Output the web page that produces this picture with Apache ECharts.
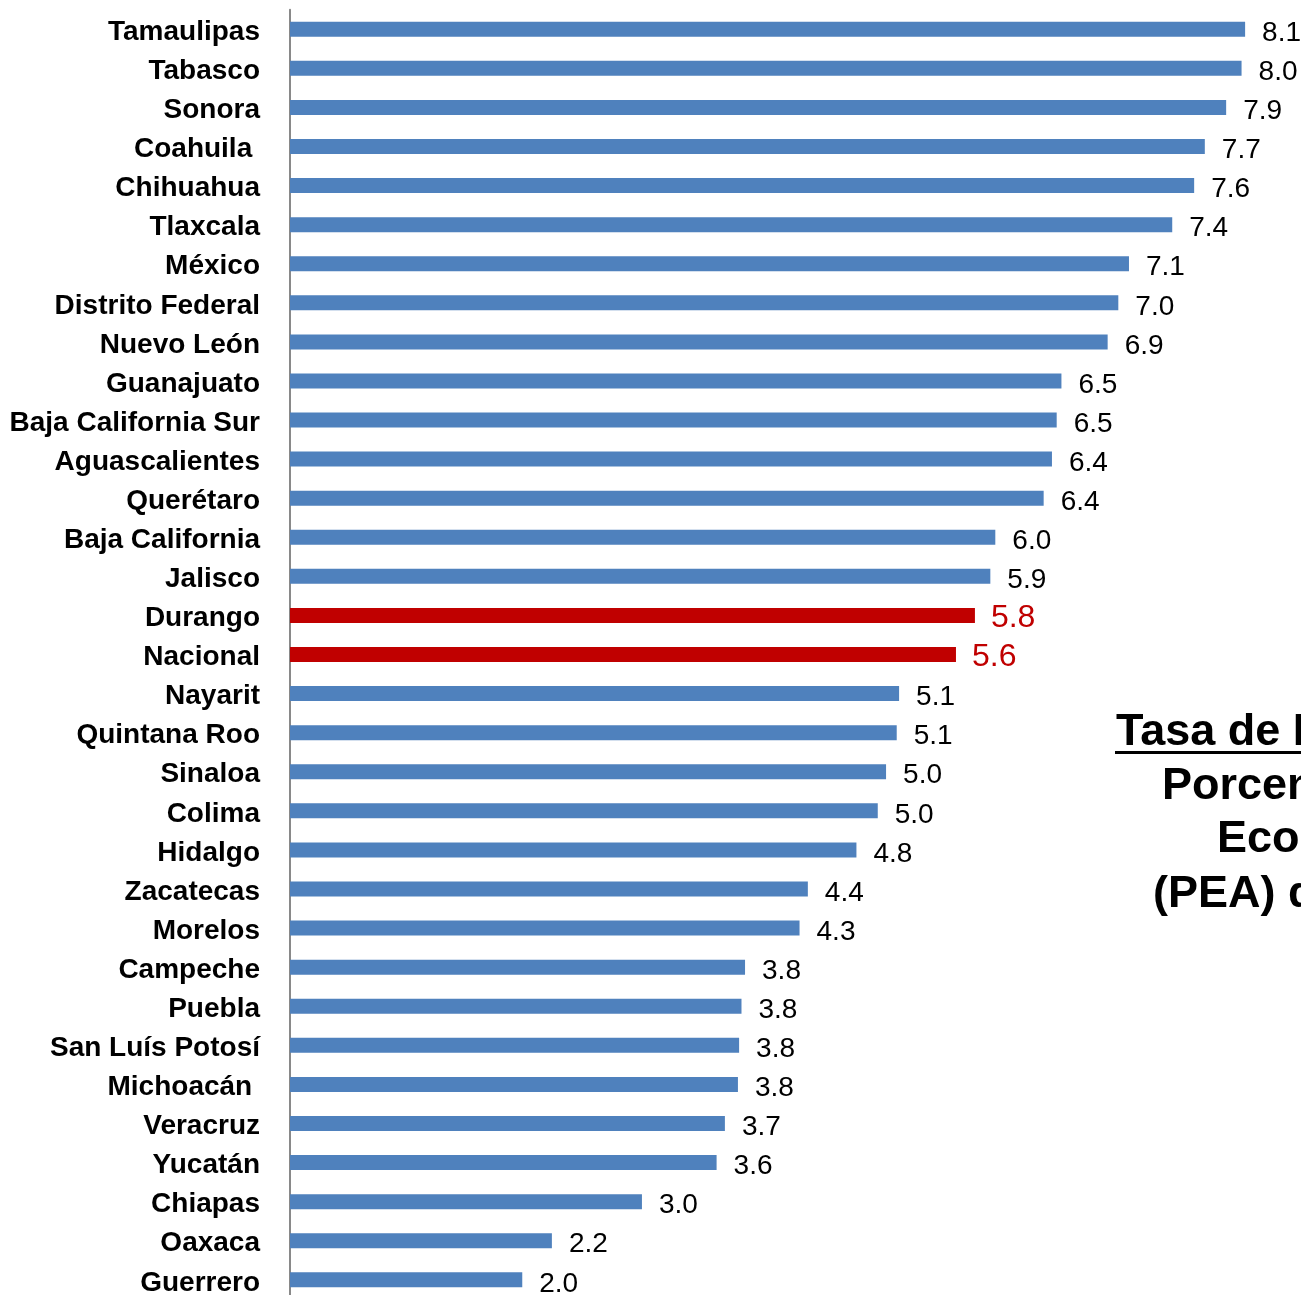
<!DOCTYPE html>
<html>
<head>
<meta charset="utf-8">
<script src="https://cdn.jsdelivr.net/npm/echarts@6/dist/echarts.min.js"></script>
<style>
html,body{margin:0;padding:0;background:#fff;}
#chart{width:1301px;height:1295px;}
</style>
</head>
<body>
<div id="chart"></div>
<script>
const categories = ["Tamaulipas","Tabasco","Sonora","Coahuila ","Chihuahua","Tlaxcala","México","Distrito Federal","Nuevo León","Guanajuato","Baja California Sur","Aguascalientes","Querétaro","Baja California","Jalisco","Durango","Nacional","Nayarit","Quintana Roo","Sinaloa","Colima","Hidalgo","Zacatecas","Morelos","Campeche","Puebla","San Luís Potosí","Michoacán ","Veracruz","Yucatán","Chiapas","Oaxaca","Guerrero"];
const values = [8.06,8.03,7.90,7.72,7.63,7.445,7.08,6.99,6.90,6.51,6.47,6.43,6.36,5.952,5.91,5.78,5.62,5.14,5.12,5.03,4.96,4.78,4.37,4.30,3.84,3.81,3.79,3.78,3.67,3.60,2.97,2.21,1.96];
const highlighted = ["Durango","Nacional"];
const titleLines = ["Tasa de Desocupación","Porcentaje de la Población","Económicamente Activa","(PEA) del Trimestre"];

const BLUE = '#4f81bd', RED = '#c00000';
const PX_PER_UNIT = 118.5;
const XMAX = 8.5;

const data = values.map((v, i) => {
  const hot = highlighted.includes(categories[i].trim());
  return {
    value: v,
    itemStyle: { color: hot ? RED : BLUE },
    label: hot ? { color: RED, fontSize: 32, distance: 16, offset: [0, 3] } : {}
  };
});

const chart = echarts.init(document.getElementById('chart'), null, { renderer: 'canvas' });
const titleX = [1116, 1162, 1217, 1153];
const titleY = [733, 786.5, 840, 894.5];
const graphics = titleLines.map((t, i) => ({
  type: 'text',
  left: titleX[i],
  top: titleY[i] - 22.5,
  style: {
    text: t,
    font: 'bold 45px "Liberation Sans", Arial, sans-serif',
    fill: '#000',
    textVerticalAlign: 'top'
  }
}));
graphics.push({
  type: 'line',
  shape: { x1: 1115, y1: 752.5, x2: 1400, y2: 752.5 },
  style: { stroke: '#000', lineWidth: 3 }
});

chart.setOption({
  animation: false,
  backgroundColor: '#fff',
  grid: { left: 290, top: 9.7, width: XMAX * PX_PER_UNIT, height: 33 * 39.08, containLabel: false, outerBoundsMode: 'none' },
  xAxis: {
    type: 'value', min: 0, max: XMAX,
    axisLine: { show: false }, axisTick: { show: false },
    axisLabel: { show: false }, splitLine: { show: false }
  },
  yAxis: {
    type: 'category', data: categories, inverse: true,
    axisLine: { show: true, lineStyle: { color: '#898989', width: 2 } },
    axisTick: { show: false },
    axisLabel: {
      margin: 30,
      formatter: v => '{c|' + v + '}',
      rich: {
        c: {
          color: '#000', fontSize: 28, fontWeight: 'bold',
          fontFamily: '"Liberation Sans", Arial, sans-serif',
          padding: [6, 0, 0, 0]
        }
      }
    }
  },
  series: [{
    type: 'bar',
    data: data,
    barWidth: 15,
    label: {
      show: true, position: 'right', distance: 17, offset: [0, 4],
      color: '#000', fontSize: 28,
      fontFamily: '"Liberation Sans", Arial, sans-serif',
      formatter: p => p.value.toFixed(1)
    }
  }],
  graphic: graphics
});
</script>
</body>
</html>
